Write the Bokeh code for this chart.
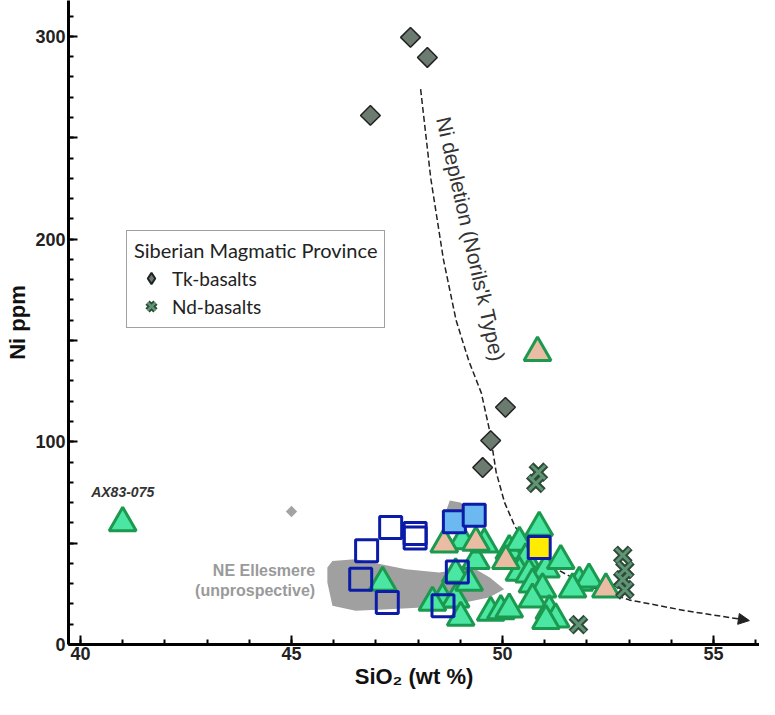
import math
from bokeh.plotting import figure
from bokeh.models import (FixedTicker, Legend, LegendItem, Arrow, NormalHead)
from bokeh.core.properties import value
from bokeh.embed import file_html
from bokeh.resources import INLINE

# ---------------- data ----------------
tk_x = [47.82, 48.22, 46.87, 50.07, 49.72, 49.53]
tk_y = [299.5, 289.6, 261.0, 117.0, 100.6, 87.3]

nd_x = [50.85, 50.79, 51.80, 52.85, 52.90, 52.85, 52.90]
nd_y = [85.0, 79.5, 9.8, 44.0, 37.0, 32.0, 27.0]

tri_x = [47.16, 48.58, 48.89, 49.01, 49.72, 49.96, 50.16, 48.34, 48.89, 49.21,
         49.37, 49.05, 49.57, 50.16, 50.40, 50.87, 50.55, 50.40, 50.63, 51.03,
         51.38, 50.71, 50.95, 50.71, 51.11, 51.26, 51.03, 51.82, 52.05, 51.66]
tri_y = [30.6, 22.3, 22.3, 13.3, 15.8, 16.6, 17.4, 20.7, 34.7, 30.6,
         41.3, 51.1, 49.5, 46.2, 50.3, 57.7, 42.1, 35.5, 34.7, 37.1,
         41.3, 29.8, 27.3, 22.3, 16.6, 12.5, 11.7, 30.6, 32.2, 27.3]

ax_x = [41.0]
ax_y = [60.0]

pink_x = [48.62, 49.37, 50.08, 52.45, 50.83]
pink_y = [49.5, 50.3, 41.3, 27.3, 144.0]

sq_x = [46.78, 46.64, 47.35, 47.93, 47.93, 47.27, 48.59, 48.93]
sq_y = [46.2, 32.2, 57.7, 54.8, 52.5, 20.7, 19.1, 35.8]

lb_x = [48.86, 49.33]
lb_y = [60.5, 63.8]

yel_x = [50.87]
yel_y = [47.8]

field_x = [45.85, 45.97, 46.5, 46.92, 47.71, 48.5, 49.29, 49.7, 50.04, 49.68,
           48.9, 48.1, 47.3, 46.52, 45.97, 45.85]
field_y = [38.0, 41.2, 42.0, 40.4, 37.1, 35.5, 38.0, 33.0, 27.3, 23.2,
           19.9, 18.2, 17.4, 16.6, 19.1, 30.6]
field2_x = [48.6, 48.75, 49.0, 49.3, 49.1, 48.7]
field2_y = [62.0, 71.0, 70.0, 66.0, 58.0, 56.0]
field_pt_x = [45.0]
field_pt_y = [65.6]

trend_x = [48.06, 48.3, 48.6, 48.9, 49.2, 49.5, 49.7, 49.85, 50.05, 50.3,
           50.7, 51.3, 52.0, 53.0, 54.3, 55.85]
trend_y = [274.0, 230.0, 190.0, 160.0, 140.0, 124.0, 105.0, 85.0, 70.0, 58.0,
           47.0, 37.0, 29.0, 22.0, 16.8, 11.8]

x_ticks = [40, 45, 50, 55]
y_ticks = [0, 50, 100, 150, 200, 250, 300]
y_labels = {0: "0", 50: "", 100: "100", 150: "", 200: "200", 250: "", 300: "300"}

# ---------------- figure ----------------
p = figure(width=759, height=699, x_range=(39.716, 56.09), y_range=(0, 317.7),
           output_backend="svg", toolbar_location=None,
           min_border_left=68, min_border_right=0, min_border_top=0, min_border_bottom=55)
p.outline_line_color = None
p.grid.visible = False

FONT = "Liberation Sans"

p.xaxis.ticker = FixedTicker(ticks=x_ticks, minor_ticks=list(range(40, 57)))
p.yaxis.ticker = FixedTicker(ticks=y_ticks, minor_ticks=list(range(0, 320, 10)))
p.yaxis.major_label_overrides = y_labels
for ax in (p.xaxis[0], p.yaxis[0]):
    ax.axis_line_width = 3
    ax.axis_line_color = "black"
    ax.major_tick_in = 9
    ax.major_tick_out = 0
    ax.minor_tick_in = 5
    ax.minor_tick_out = 0
    ax.major_tick_line_width = 2
    ax.minor_tick_line_width = 2
    ax.major_tick_line_color = "black"
    ax.minor_tick_line_color = "black"
    ax.major_label_text_font = FONT
    ax.major_label_text_font_style = "bold"
    ax.major_label_text_font_size = "18px"
    ax.major_label_text_color = "#222222"
    ax.axis_label_text_font = FONT
    ax.axis_label_text_color = "#111111"
    ax.axis_label_text_font_style = "bold"
    ax.axis_label_text_font_size = "22px"
p.xaxis.major_label_standoff = 2
p.yaxis.major_label_standoff = 3
p.xaxis.axis_label = "SiO₂ (wt %)"
p.xaxis.axis_label_standoff = 1
p.yaxis.axis_label = "Ni ppm"
p.yaxis.axis_label_standoff = 2

# NE Ellesmere field
p.patch(field_x, field_y, fill_color="#a0a0a0", line_color=None)
p.patch(field2_x, field2_y, fill_color="#a0a0a0", line_color=None)
p.scatter(field_pt_x, field_pt_y, marker="square", angle=math.pi / 4, size=8,
          fill_color="#a3a3a3", line_color=None)
p.text(x=[45.56, 45.56], y=[36.5, 26.5], text=["NE Ellesmere", "(unprospective)"],
       text_align="right", text_baseline="middle", text_font=value(FONT),
       text_font_style="bold", text_font_size="16px", text_color="#9a9a9a")

# Trend line
p.line(trend_x, trend_y, line_color="#222222", line_width=1.5, line_dash="6 3")
p.add_layout(Arrow(end=NormalHead(size=11, fill_color="#222222", line_color="#222222"),
                   line_color=None,
                   x_start=trend_x[-2], y_start=trend_y[-2],
                   x_end=trend_x[-1], y_end=trend_y[-1]))
p.text(x=[49.25], y=[200.0], text=["Ni depletion (Norils'k Type)"], angle=-1.349,
       text_align="center", text_baseline="middle", text_font=value(FONT),
       text_font_size="21px", text_color="#333333")

# Triangles
p.scatter(tri_x, tri_y, marker="triangle", size=27, fill_color="#4ae6a2",
          line_color="#1b9a4f", line_width=3)
p.scatter(ax_x, ax_y, marker="triangle", size=27, fill_color="#4ae6a2",
          line_color="#1b9a4f", line_width=3)
p.scatter(pink_x, pink_y, marker="triangle", size=27, fill_color="#ebbca4",
          line_color="#1b9a4f", line_width=3)
p.text(x=ax_x, y=[ax_y[0] + 15], text=["AX83-075"], text_align="center",
       text_baseline="middle", text_font=value(FONT), text_font_style="bold italic",
       text_font_size="14px", text_color="#333333")

# Squares
p.scatter(sq_x, sq_y, marker="square", size=22, fill_color=None,
          line_color="#0b1ca8", line_width=3)
p.scatter(lb_x, lb_y, marker="square", size=22, fill_color="#6cb8f0",
          line_color="#0b1ca8", line_width=3)
p.scatter(yel_x, yel_y, marker="square", size=22, fill_color="#ffec00",
          line_color="#0b1ca8", line_width=3)

# Siberian basalts (legend glyph renderers sit hidden beneath the plotted marks)
r_tk_leg = p.scatter(tk_x, tk_y, marker="diamond", size=10,
                     fill_color="#6b7b70", line_color="#222222", line_width=2)
p.scatter(tk_x, tk_y, marker="square", angle=math.pi / 4, size=14,
          fill_color="#6b7b70", line_color="#222222", line_width=1.5)
r_nd_leg1 = p.scatter(nd_x, nd_y, marker="x", size=10, line_color="#2e4a38", line_width=6)
r_nd_leg2 = p.scatter(nd_x, nd_y, marker="x", size=10, line_color="#5f9575", line_width=2.5)
p.scatter(nd_x, nd_y, marker="x", size=21, line_color="#2e4a38", line_width=7)
p.scatter(nd_x, nd_y, marker="x", size=19, line_color="#5f9575", line_width=3)

legend = Legend(items=[LegendItem(label="Tk-basalts", renderers=[r_tk_leg]),
                       LegendItem(label="Nd-basalts", renderers=[r_nd_leg1, r_nd_leg2])],
                location=(58, 316), title="Siberian Magmatic Province",
                title_text_font="Lato", title_text_font_size="20px",
                title_text_font_style="normal", title_text_color="#222222",
                title_standoff=2,
                label_text_font="Lato", label_text_font_size="19px",
                label_text_color="#222222",
                glyph_width=34, glyph_height=28, label_height=28, spacing=-1,
                padding=7, margin=0, label_standoff=4,
                border_line_color="#444444", border_line_width=1.5,
                background_fill_alpha=1.0)
p.add_layout(legend, "center")

open("out.html", "w").write(file_html(p, INLINE))
